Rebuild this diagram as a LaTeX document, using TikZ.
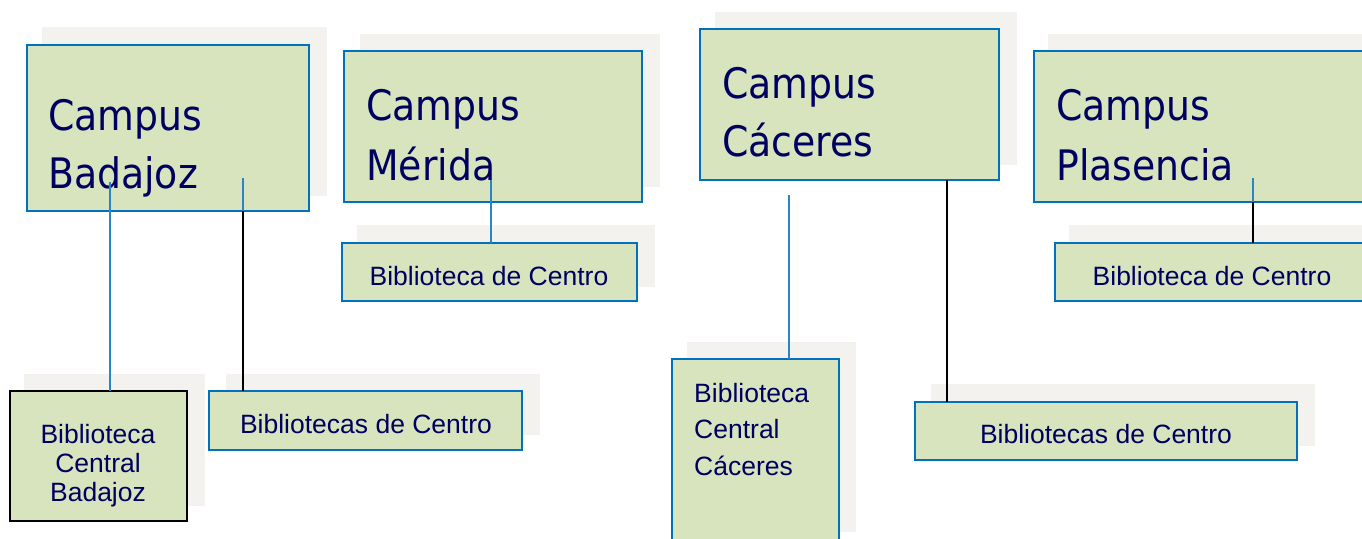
\documentclass[tikz,border=0pt]{standalone}
\usepackage{fontspec}
\setmainfont{Liberation Sans}
\newfontfamily\campusfont[FakeStretch=0.9]{DejaVu Sans}
\definecolor{boxfill}{HTML}{D7E4BD}
\definecolor{shadowfill}{HTML}{F3F2EE}
\definecolor{boxblue}{HTML}{0070C0}
\definecolor{lineblue}{HTML}{2A84C6}
\definecolor{navy}{HTML}{000060}
\tikzset{
  x=1pt, y=-1pt,
  shadowbox/.style={fill=shadowfill, draw=none, inner sep=0pt, outer sep=0pt},
  greenbox/.style={fill=boxfill, draw=boxblue, line width=2pt, inner sep=0pt, outer sep=0pt},
  blackbox/.style={fill=boxfill, draw=black, line width=2.5pt, inner sep=0pt, outer sep=0pt},
  campustext/.style={font=\campusfont\fontsize{42}{50}\selectfont, text=navy, inner sep=0pt, anchor=base west},
  libtext/.style={font=\fontsize{26.5}{30}\selectfont, text=navy, inner sep=0pt},
  bline/.style={draw=lineblue, line width=1.6pt},
  kline/.style={draw=black, line width=1.6pt},
}
\newcommand{\shbox}[5]{\node[shadowbox, minimum width={#3-#1}, minimum height={#4-#2}] (#5) at ({(#1+#3)/2},{(#2+#4)/2}) {};}
\newcommand{\gbox}[6]{\node[#6, minimum width={#3-#1}, minimum height={#4-#2}] (#5) at ({(#1+#3)/2},{(#2+#4)/2}) {};}
\begin{document}
\begin{tikzpicture}
\useasboundingbox (0,0) rectangle (1362,538);
\clip (0,0) rectangle (1362,538);
\fill[white] (0,0) rectangle (1362,538);

% shadows
\shbox{42}{27}{327}{196}{shbad}
\shbox{360}{34}{660}{187}{shmer}
\shbox{715}{12}{1017}{165}{shcac}
\shbox{1048}{34}{1400}{187}{shpla}
\shbox{24}{374}{205}{506}{shbcb}
\shbox{226}{374}{540}{435}{shbcentb}
\shbox{357}{225}{655}{287}{shbmer}
\shbox{687}{342}{856}{532}{shbcc}
\shbox{931}{384}{1315}{446}{shbcentc}
\shbox{1069}{225}{1400}{287}{shbpla}

% boxes
\gbox{27}{45}{309}{211}{bad}{greenbox}
\gbox{344}{51}{642}{202}{mer}{greenbox}
\gbox{700}{29}{999}{180}{cac}{greenbox}
\gbox{1034}{51}{1400}{202}{pla}{greenbox}
\gbox{10}{391}{187}{521}{bcb}{blackbox}
\gbox{209}{391}{522}{450}{bcentb}{greenbox}
\gbox{342}{243}{637}{301}{bmer}{greenbox}
\gbox{672}{359}{839}{580}{bcc}{greenbox}
\gbox{915}{402}{1297}{460}{bcentc}{greenbox}
\gbox{1055}{243}{1400}{301}{bpla}{greenbox}

% campus texts
\node[campustext] (tbad1) at (48,130) {Campus};
\node[campustext] (tbad2) at (48,188) {Badajoz};
\node[campustext] (tmer1) at (366,120) {Campus};
\node[campustext] (tmer2) at (366,180) {Mérida};
\node[campustext] (tcac1) at (722,98) {Campus};
\node[campustext] (tcac2) at (722,156) {Cáceres};
\node[campustext] (tpla1) at (1056,120) {Campus};
\node[campustext] (tpla2) at (1056,180) {Plasencia};

% library texts
\node[libtext, align=center] (tbcb) at (98,466) {Biblioteca\\[-1pt]Central\\[-1pt]Badajoz};
\node[libtext] (tbcentb) at (366,424) {Bibliotecas de Centro};
\node[libtext] (tbmer) at (489,276) {Biblioteca de Centro};
\node[libtext, align=left, anchor=north west] (tbcc) at (694,383) {Biblioteca\\[6.5pt]Central\\[6.5pt]Cáceres};
\node[libtext] (tbcentc) at (1106,434) {Bibliotecas de Centro};
\node[libtext] (tbpla) at (1212,276) {Biblioteca de Centro};

% connectors
\coordinate (c1) at (110,182);
\draw[bline] (c1) -- (c1 |- bcb.north);
\coordinate (c2) at (243,178);
\draw[bline] (c2) -- (c2 |- bad.south);
\draw[kline] (c2 |- bad.south) -- (c2 |- bcentb.north);
\coordinate (c3) at (491,180);
\draw[bline] (c3) -- (c3 |- bmer.north);
\coordinate (c4) at (789,195);
\draw[bline] (c4) -- (c4 |- bcc.north);
\coordinate (c5) at (947,180);
\draw[kline] (c5 |- cac.south) -- (c5 |- bcentc.north);
\coordinate (c6) at (1253,178);
\draw[bline] (c6) -- (c6 |- pla.south);
\draw[kline] (c6 |- pla.south) -- (c6 |- bpla.north);
\end{tikzpicture}
\end{document}
